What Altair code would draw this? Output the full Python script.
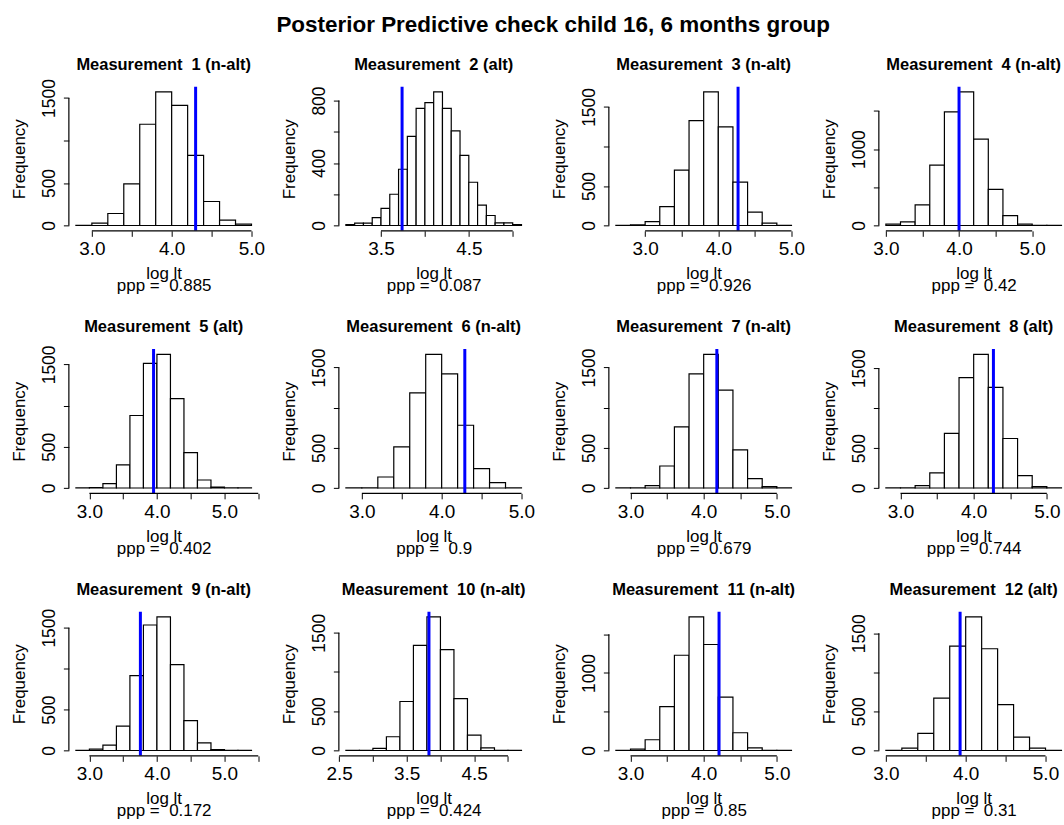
import json
import altair as alt
import pandas as pd

# ---------------- data ----------------
NB = "\u00a0"
titles = [
    "Measurement  1 (n-alt)", "Measurement  2 (alt)", "Measurement  3 (n-alt)", "Measurement  4 (n-alt)",
    "Measurement  5 (alt)", "Measurement  6 (n-alt)", "Measurement  7 (n-alt)", "Measurement  8 (alt)",
    "Measurement  9 (n-alt)", "Measurement  10 (n-alt)", "Measurement  11 (n-alt)", "Measurement  12 (alt)",
]
break_start = [2.8, 3.1, 2.6, 3.0, 2.8, 2.8, 2.8, 2.8, 2.8, 2.6, 2.8, 3.0]
bin_width = [0.2, 0.1, 0.2, 0.2, 0.2, 0.2, 0.2, 0.2, 0.2, 0.2, 0.2, 0.2]
counts = [
    [2, 27, 141, 490, 1191, 1571, 1414, 826, 282, 63, 16],
    [5, 15, 15, 50, 110, 200, 360, 570, 750, 787, 855, 750, 606, 449, 277, 130, 64, 17, 17, 5],
    [1, 8, 50, 240, 700, 1327, 1690, 1247, 548, 169, 30, 3],
    [17, 48, 270, 791, 1487, 1748, 1130, 474, 130, 17, 1, 1],
    [1, 5, 53, 280, 880, 1512, 1621, 1086, 430, 97, 10, 2, 1],
    [1, 2, 137, 511, 1184, 1662, 1421, 781, 241, 66, 3],
    [1, 3, 29, 274, 760, 1421, 1662, 1217, 474, 116, 17, 1],
    [1, 2, 29, 189, 683, 1382, 1672, 1261, 620, 155, 17, 1],
    [1, 16, 66, 299, 914, 1533, 1631, 1049, 365, 94, 12, 1, 1],
    [1, 1, 26, 175, 624, 1338, 1701, 1286, 662, 197, 34, 2, 1],
    [1, 17, 139, 567, 1229, 1723, 1368, 688, 229, 35, 2, 1],
    [2, 30, 220, 671, 1337, 1709, 1302, 588, 171, 30, 1],
]
observed = [4.30, 3.74, 4.27, 4.00, 3.95, 4.29, 4.18, 4.27, 3.755, 3.83, 4.21, 3.93]
ppp = ["0.885", "0.087", "0.926", "0.42", "0.402", "0.9", "0.679", "0.744", "0.172", "0.424", "0.85", "0.31"]

x_ticks = [
    [3.0, 3.5, 4.0, 4.5, 5.0], [3.5, 4.0, 4.5, 5.0], [3.0, 3.5, 4.0, 4.5, 5.0], [3.0, 3.5, 4.0, 4.5, 5.0],
    [3.0, 3.5, 4.0, 4.5, 5.0, 5.5], [3.0, 3.5, 4.0, 4.5, 5.0], [3.0, 3.5, 4.0, 4.5, 5.0], [3.0, 3.5, 4.0, 4.5, 5.0],
    [3.0, 3.5, 4.0, 4.5, 5.0, 5.5], [2.5, 3.0, 3.5, 4.0, 4.5, 5.0], [3.0, 3.5, 4.0, 4.5, 5.0], [3.0, 3.5, 4.0, 4.5, 5.0],
]
x_labels = [
    [3.0, 4.0, 5.0], [3.5, 4.5], [3.0, 4.0, 5.0], [3.0, 4.0, 5.0],
    [3.0, 4.0, 5.0], [3.0, 4.0, 5.0], [3.0, 4.0, 5.0], [3.0, 4.0, 5.0],
    [3.0, 4.0, 5.0], [2.5, 3.5, 4.5], [3.0, 4.0, 5.0], [3.0, 4.0, 5.0],
]
y_ticks = [
    [0, 500, 1000, 1500], [0, 200, 400, 600, 800], [0, 500, 1000, 1500], [0, 500, 1000, 1500],
    [0, 500, 1000, 1500], [0, 500, 1000, 1500], [0, 500, 1000, 1500], [0, 500, 1000, 1500],
    [0, 500, 1000, 1500], [0, 500, 1000, 1500], [0, 500, 1000, 1500], [0, 500, 1000, 1500],
]
y_labels = [
    [0, 500, 1500], [0, 400, 800], [0, 500, 1500], [0, 1000],
    [0, 500, 1500], [0, 500, 1500], [0, 500, 1500], [0, 500, 1500],
    [0, 500, 1500], [0, 500, 1500], [0, 1000], [0, 500, 1500],
]
main_title = "Posterior Predictive check child 16, 6 months group"

# ---------------- layout / style ----------------
FONT = "Liberation Sans"
PLOT_W = 190
LAST_W = 185          # right column is cut by the image edge
PLOT_H = 144.5
COL_GAP = 80.5
ROW_GAP = 118
LAB = 17


def keep_spaces(s):
    return s.replace("  ", " " + NB)


def panel(i):
    n = len(counts[i])
    lo = break_start[i]
    bw = bin_width[i]
    hi = lo + n * bw
    rng = hi - lo
    xmin = lo - 0.04 * rng
    xmax = hi + 0.04 * rng
    col = i % 4
    w = PLOT_W
    if col == 3:
        w = LAST_W
        xmax = xmin + (xmax - xmin) * LAST_W / PLOT_W
    cmax = max(counts[i])
    ymin, ymax = -0.04 * cmax, 1.04 * cmax

    xs = alt.Scale(domain=[xmin, xmax], nice=False, zero=False)
    ys = alt.Scale(domain=[ymin, ymax], nice=False, zero=False)

    xlab = json.dumps(x_labels[i])
    ylab = json.dumps(y_labels[i])
    xaxis = alt.Axis(
        values=x_ticks[i], domain=False, grid=False, ticks=True, tickSize=5.5, tickColor="black",
        tickWidth=1, labelFontSize=19, labelColor="black", labelFont=FONT, labelPadding=18.5,
        labelBaseline="alphabetic", labelFlush=False, labelOverlap=False,
        labelExpr=f"indexof({xlab}, datum.value) >= 0 ? format(datum.value, '.1f') : ''",
        title=["log lt", keep_spaces(f"ppp =  {ppp[i]}")], titleFontSize=LAB, titleFont=FONT,
        titleFontWeight="normal", titleColor="black", titleLineHeight=12, titleBaseline="alphabetic",
        titleX=PLOT_W / 2, titleY=48, titleAlign="center",
    )
    yaxis = alt.Axis(
        values=y_ticks[i], domain=False, grid=False, ticks=True, tickSize=5.5, tickColor="black",
        tickWidth=1, labelFontSize=17.5, labelColor="black", labelFont=FONT, labelPadding=9,
        labelAngle=-90, labelAlign="center", labelBaseline="alphabetic", labelFlush=False,
        labelOverlap=False,
        labelExpr=f"indexof({ylab}, datum.value) >= 0 ? format(datum.value, 'd') : ''",
        title="Frequency", titleFontSize=LAB, titleFont=FONT, titleFontWeight="normal",
        titleColor="black", titleAngle=-90, titleBaseline="alphabetic", titleAlign="center",
        titleX=-44, titleY=PLOT_H / 2,
    )
    X = alt.X("x:Q", scale=xs, axis=xaxis)
    Y = alt.Y("y:Q", scale=ys, axis=yaxis)

    lefts = [round(lo + k * bw, 4) for k in range(n)]
    rights = [round(lo + (k + 1) * bw, 4) for k in range(n)]
    bars_df = pd.DataFrame({"x": lefts, "x2": rights, "y": counts[i], "y2": [0] * n})
    bars = alt.Chart(bars_df).mark_rect(fill="white", stroke="black", strokeWidth=1.2, clip=True).encode(
        x=X, x2="x2:Q", y=Y, y2="y2:Q"
    )
    obs = alt.Chart(pd.DataFrame({"x": [observed[i]]})).mark_rule(
        color="#0000ff", strokeWidth=3, clip=True
    ).encode(x=X)
    xline = alt.Chart(pd.DataFrame({"x": [x_ticks[i][0]], "x2": [x_ticks[i][-1]], "y": [ymin]})).mark_rule(
        color="black", strokeWidth=1.2
    ).encode(x=X, x2="x2:Q", y=Y)
    yline = alt.Chart(pd.DataFrame({"x": [xmin], "y": [y_ticks[i][0]], "y2": [y_ticks[i][-1]]})).mark_rule(
        color="black", strokeWidth=1.2
    ).encode(x=X, y=Y, y2="y2:Q")
    head = alt.Chart(pd.DataFrame({"t": [keep_spaces(titles[i])]})).mark_text(
        font=FONT, fontSize=16.5, fontWeight="bold", color="black", align="center", baseline="alphabetic"
    ).encode(text="t:N", x=alt.value(PLOT_W / 2), y=alt.value(-17))

    return alt.layer(bars, obs, xline, yline, head).properties(width=w, height=PLOT_H)


panels = [panel(i) for i in range(12)]

chart = alt.concat(
    *panels, columns=4, spacing={"row": ROW_GAP, "column": COL_GAP}, bounds="flush", align="each"
).properties(
    title=alt.TitleParams(
        main_title, fontSize=22.5, fontWeight="bold", font=FONT, color="black", anchor="middle",
        baseline="alphabetic", offset=2, dx=16,
    ),
    padding={"left": 10, "top": 13, "right": 0, "bottom": 0},
    background="white",
).configure(font=FONT).configure_view(strokeWidth=0, stroke="transparent")

chart.save("out.html", embed_options={"renderer": "svg", "actions": False})
